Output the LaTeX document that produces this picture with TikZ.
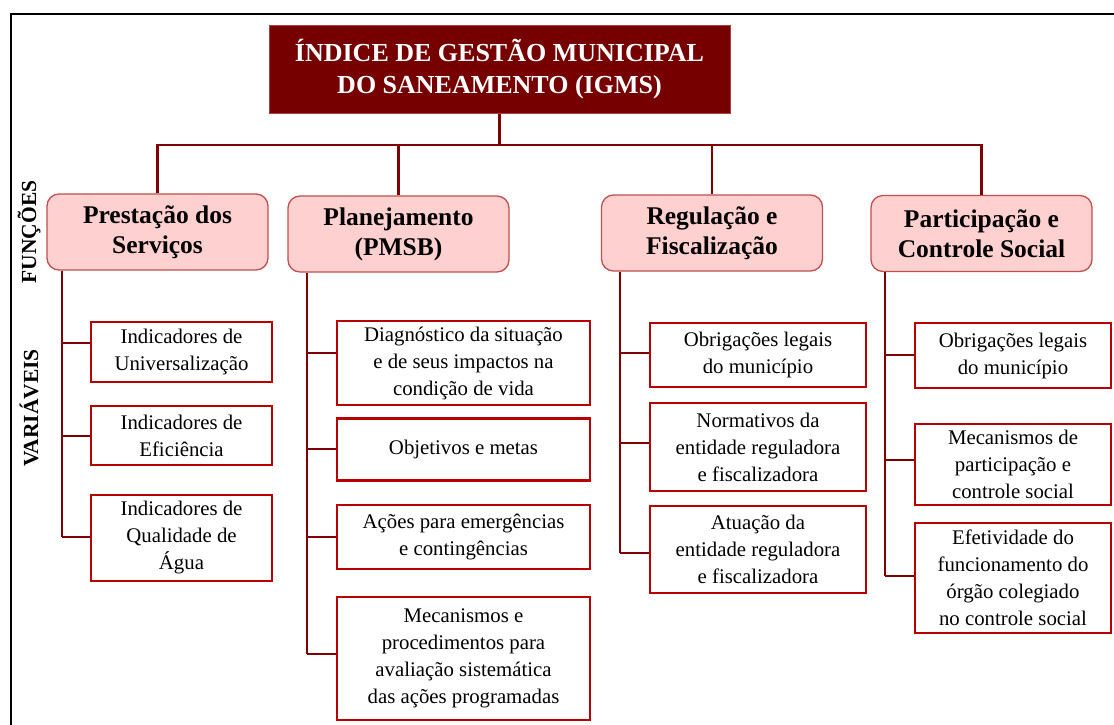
\documentclass[tikz,border=0pt]{standalone}
\usepackage{fontspec}
\setmainfont{Liberation Serif}
\definecolor{topred}{HTML}{760000}
\definecolor{topedge}{HTML}{B04040}
\definecolor{funfill}{HTML}{FFD0D0}
\definecolor{funedge}{HTML}{C0504D}
\definecolor{varedge}{HTML}{B80000}
\definecolor{connred}{HTML}{800000}
\tikzset{
  titlebox/.style={draw=topedge, line width=1pt, fill=topred, text=white, inner sep=0pt,
    align=center, font=\bfseries\fontsize{26}{32}\selectfont, minimum width=461pt, minimum height=88pt},
  funbox/.style={draw=funedge, line width=1.3pt, fill=funfill, rounded corners=12pt, inner sep=0pt,
    align=center, font=\bfseries\fontsize{25.5}{30}\selectfont, minimum width=221pt, minimum height=76pt},
  varbox/.style={draw=varedge, line width=2.2pt, fill=white, inner sep=0pt,
    align=center, font=\fontsize{20.8}{27}\selectfont},
  conn/.style={draw=connred, line width=2.2pt},
  sidelabel/.style={rotate=90, font=\bfseries\fontsize{21.5}{24}\selectfont, inner sep=0pt},
}
\begin{document}
\begin{tikzpicture}[x=1pt,y=-1pt]
\useasboundingbox (0,0) rectangle (1114,724);
\fill[white] (0,0) rectangle (1114,724);
\draw[black, line width=1.8pt] (11,14) rectangle (1130,740);

% title
\node[titlebox] (top) at (499.5,69) {ÍNDICE DE GESTÃO MUNICIPAL\\DO SANEAMENTO (IGMS)};

% functions
\node[funbox] (f1) at (157.5,232) {Prestação dos\\Serviços};
\node[funbox] (f2) at (398.5,234) {Planejamento\\(PMSB)};
\node[funbox] (f3) at (712,233) {Regulação e\\Fiscalização};
\node[funbox] (f4) at (981.5,233.5) {Participação e\\Controle Social};

% side labels
\node[sidelabel] (lf) at (29,232) {FUNÇÕES};
\node[sidelabel] (lv) at (29,408) {VARIÁVEIS};

% column 1
\node[varbox, minimum width=181pt, minimum height=60pt] (a1) at (181.5,352) {Indicadores de\\Universalização};
\node[varbox, minimum width=181pt, minimum height=59pt] (a2) at (181.5,435.5) {Indicadores de\\Eficiência};
\node[varbox, minimum width=181pt, minimum height=86pt] (a3) at (181.5,538) {Indicadores de\\Qualidade de\\Água};

% column 2
\node[varbox, minimum width=253pt, minimum height=84pt] (b1) at (463.5,363) {Diagnóstico da situação\\e de seus impactos na\\condição de vida};
\node[varbox, minimum width=253pt, minimum height=62pt] (b2) at (463.5,449.5) {Objetivos e metas};
\node[varbox, minimum width=253pt, minimum height=64pt] (b3) at (463.5,537) {Ações para emergências\\e contingências};
\node[varbox, minimum width=253pt, minimum height=123pt] (b4) at (463.5,658.5) {Mecanismos e\\procedimentos para\\avaliação sistemática\\das ações programadas};

% column 3
\node[varbox, minimum width=216pt, minimum height=64pt] (c1) at (758,355) {Obrigações legais\\do município};
\node[varbox, minimum width=216pt, minimum height=88pt] (c2) at (758,447) {Normativos da\\entidade reguladora\\e fiscalizadora};
\node[varbox, minimum width=216pt, minimum height=87pt] (c3) at (758,549.5) {Atuação da\\entidade reguladora\\e fiscalizadora};

% column 4
\node[varbox, minimum width=196pt, minimum height=65pt] (d1) at (1013,355.5) {Obrigações legais\\do município};
\node[varbox, minimum width=196pt, minimum height=81pt] (d2) at (1013,464.5) {Mecanismos de\\participação e\\controle social};
\node[varbox, minimum width=196pt, minimum height=110pt] (d3) at (1013,578) {Efetividade do\\funcionamento do\\órgão colegiado\\no controle social};

% top connectors
\coordinate (hb) at (0,145);
\draw[conn] (top.south) -- (top.south |- hb);
\draw[conn] (f1.north) |- (f4.north |- hb) -- (f4.north);
\draw[conn] (f2.north) -- (f2.north |- hb);
\draw[conn] (f3.north) -- (f3.north |- hb);

% branch points
\coordinate (pa1) at (62,343);
\coordinate (pa2) at (62,436);
\coordinate (pa3) at (62,537);
\coordinate (pb1) at (307,353);
\coordinate (pb2) at (307,449);
\coordinate (pb3) at (307,537);
\coordinate (pb4) at (307,654);
\coordinate (pc1) at (620,353);
\coordinate (pc2) at (620,443);
\coordinate (pc3) at (620,553);
\coordinate (pd1) at (885,355);
\coordinate (pd2) at (885,460);
\coordinate (pd3) at (885,576);

% trunks
\draw[conn] (f1.south -| pa3) -- (pa3);
\draw[conn] (f2.south -| pb4) -- (pb4);
\draw[conn] (f3.south -| pc3) -- (pc3);
\draw[conn] (f4.south -| pd3) -- (pd3);

% branches
\foreach \p/\n in {pa1/a1,pa2/a2,pa3/a3,pb1/b1,pb2/b2,pb3/b3,pb4/b4,pc1/c1,pc2/c2,pc3/c3,pd1/d1,pd2/d2,pd3/d3}
  \draw[conn] (\p) -- (\p -| \n.west);
\end{tikzpicture}
\end{document}
